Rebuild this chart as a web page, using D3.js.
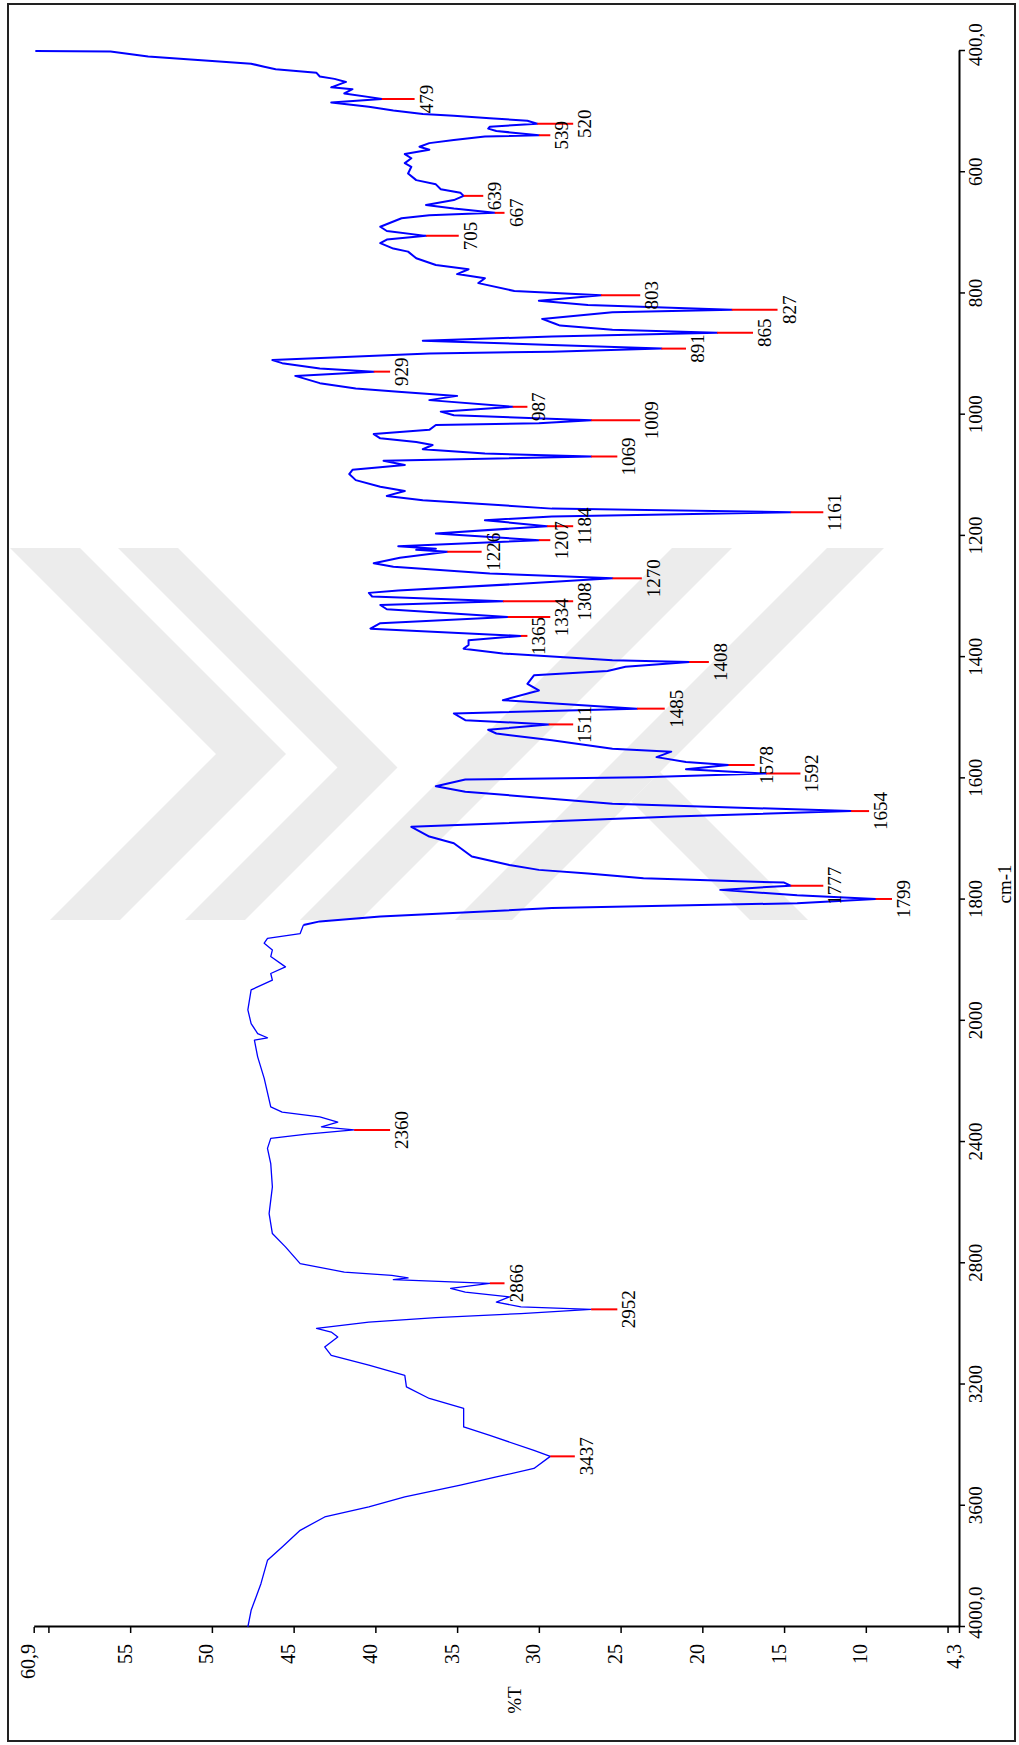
<!DOCTYPE html>
<html>
<head>
<meta charset="utf-8">
<script src="https://cdn.jsdelivr.net/npm/d3@7"></script>
<style>
  body { margin: 0; background: #fff; }
  svg { display: block; }
  text { font-family: "Liberation Serif", "Times New Roman", serif; fill: #000; }
</style>
</head>
<body>
<svg id="chart" width="1019" height="1745"></svg>
<script>
// FT-IR spectrum: wavenumber (cm-1) vs transmittance (%T)
const wavenumber = [
  400, 401, 409, 414, 416, 421, 426, 430, 436, 442, 446, 451, 460, 463, 470, 479, 485, 492, 498, 504,
  507, 511, 515, 520, 525, 528, 532, 539, 541, 547, 552, 558, 563, 570, 577, 585, 591, 602, 613, 620,
  628, 634, 639, 646, 654, 660, 667, 671, 676, 690, 697, 705, 711, 717, 726, 731, 742, 753, 760, 768,
  775, 783, 796, 803, 812, 819, 827, 831, 842, 850, 853, 860, 865, 871, 878, 885, 891, 896, 899, 910,
  915, 924, 929, 936, 948, 957, 962, 969, 976, 987, 995, 1001, 1009, 1014, 1017, 1025, 1032, 1039, 1045, 1050,
  1057, 1064, 1069, 1076, 1083, 1091, 1098, 1108, 1119, 1126, 1134, 1141, 1155, 1161, 1168, 1174, 1184, 1196, 1207, 1217,
  1221, 1223, 1226, 1236, 1245, 1251, 1262, 1270, 1279, 1290, 1294, 1300, 1308, 1314, 1321, 1334, 1344, 1353, 1365, 1372,
  1380, 1386, 1394, 1405, 1408, 1416, 1423, 1430, 1444, 1455, 1471, 1485, 1493, 1504, 1511, 1520, 1526, 1537, 1551, 1556,
  1565, 1573, 1578, 1585, 1592, 1598, 1602, 1613, 1622, 1642, 1654, 1663, 1680, 1696, 1707, 1729, 1743, 1751, 1757, 1765,
  1772, 1777, 1784, 1793, 1799, 1806, 1814, 1828, 1836, 1842, 1856, 1864, 1872, 1883, 1894, 1911, 1922, 1933, 1949, 1982,
  2009, 2042, 2056, 2064, 2119, 2190, 2284, 2301, 2317, 2334, 2350, 2360, 2374, 2388, 2421, 2471, 2548, 2636, 2702, 2746,
  2801, 2829, 2840, 2848, 2854, 2866, 2883, 2895, 2911, 2928, 2944, 2952, 2966, 2979, 2994, 3015, 3027, 3043, 3076, 3104,
  3136, 3170, 3208, 3246, 3279, 3340, 3368, 3417, 3437, 3477, 3505, 3532, 3571, 3604, 3637, 3681, 3736, 3780, 3857, 3945,
  4000
];
const transmittance = [
  60.8, 56.2, 53.9, 51.3, 50.2, 47.6, 46.8, 46.1, 43.6, 43.4, 42.5, 41.8, 42.7, 41.4, 41.9, 39.6, 42.7, 40.4, 38.9, 37.1,
  35.2, 33.0, 30.7, 30.1, 33.0, 33.1, 32.6, 30.0, 33.3, 35.2, 36.7, 37.3, 36.7, 38.2, 37.8, 38.2, 37.8, 38.0, 37.5, 36.3,
  36.0, 34.8, 34.6, 35.2, 36.9, 35.2, 32.7, 36.7, 38.4, 39.7, 39.3, 36.9, 39.3, 39.7, 38.9, 38.0, 37.5, 36.3, 34.3, 35.0,
  33.3, 33.7, 31.5, 26.2, 30.0, 27.0, 18.2, 25.5, 29.8, 29.0, 28.7, 25.5, 19.1, 29.2, 37.1, 29.2, 22.5, 29.2, 36.7, 46.3,
  45.7, 43.4, 40.1, 44.9, 43.4, 41.2, 38.6, 35.0, 36.7, 31.6, 36.0, 35.2, 26.8, 30.0, 36.3, 36.7, 40.1, 39.7, 37.5, 36.5,
  37.1, 33.3, 26.8, 39.5, 38.2, 41.4, 41.6, 41.2, 39.7, 38.2, 39.3, 37.1, 29.2, 14.6, 29.2, 33.3, 29.5, 36.3, 30.0, 38.6,
  36.3, 37.5, 35.6, 38.5, 40.1, 38.9, 33.0, 25.5, 31.1, 38.6, 40.4, 40.2, 32.2, 39.7, 39.3, 31.9, 39.7, 40.3, 31.1, 34.3,
  34.3, 34.6, 32.2, 25.5, 20.8, 24.7, 25.8, 30.3, 30.7, 30.0, 32.2, 24.0, 35.2, 34.5, 29.4, 33.1, 32.6, 29.2, 25.5, 21.9,
  22.8, 21.0, 18.4, 21.0, 16.1, 23.6, 34.5, 36.3, 34.5, 25.5, 10.9, 21.7, 37.8, 36.7, 35.2, 34.1, 31.8, 30.0, 27.0, 23.6,
  15.0, 14.6, 18.9, 14.2, 9.4, 14.2, 29.2, 39.7, 43.4, 44.4, 44.6, 46.6, 46.8, 46.3, 46.4, 45.5, 46.4, 46.3, 47.6, 47.8,
  47.6, 47.2, 46.6, 47.4, 47.2, 46.8, 46.4, 45.7, 43.4, 42.3, 43.3, 41.3, 44.2, 46.4, 46.6, 46.4, 46.3, 46.5, 46.3, 45.5,
  44.6, 41.9, 39.0, 38.0, 38.9, 33.0, 35.4, 34.5, 31.8, 32.6, 31.1, 26.8, 31.1, 36.3, 40.4, 43.6, 42.7, 42.3, 43.1, 42.7,
  40.4, 38.2, 38.1, 36.7, 34.6, 34.6, 33.0, 30.3, 29.3, 30.3, 32.6, 34.8, 38.2, 40.4, 43.1, 44.6, 45.7, 46.6, 47.0, 47.6,
  47.8
];

// Labelled absorption bands: position, %T at the band minimum, %T where the marker ends
const peakWavenumber = [479, 520, 539, 639, 667, 705, 803, 827, 865, 891, 929, 987, 1009, 1069, 1161, 1184, 1207,
  1226, 1270, 1308, 1334, 1365, 1408, 1485, 1511, 1578, 1592, 1654, 1777, 1799, 2360, 2866, 2952, 3437];
const peakTransmittance = [39.6, 30.1, 30.0, 34.6, 32.7, 36.9, 26.2, 18.2, 19.1, 22.5, 40.1, 31.6, 26.8, 26.8, 14.6, 29.5, 30.0,
  35.6, 25.5, 32.2, 31.9, 31.1, 20.8, 24.0, 29.4, 18.4, 16.1, 10.9, 14.6, 9.4, 41.3, 33.0, 26.8, 29.3];
const markerEnd = [37.6, 27.9, 29.3, 33.4, 32.1, 34.9, 23.8, 15.4, 16.9, 21.0, 39.1, 30.7, 23.8, 25.2, 12.6, 27.9, 29.3,
  33.5, 23.7, 27.9, 29.3, 30.7, 19.6, 22.3, 27.9, 16.8, 14.0, 9.8, 12.6, 8.4, 39.1, 32.1, 25.2, 27.8];

// Axis ticks
const xTickValues = [4000, 3600, 3200, 2800, 2400, 2000, 1800, 1600, 1400, 1200, 1000, 800, 600, 400];
const xTickLabels = ["4000,0", "3600", "3200", "2800", "2400", "2000", "1800", "1600", "1400", "1200", "1000", "800", "600", "400,0"];
const yTickValues = [60.9, 60, 55, 50, 45, 40, 35, 30, 25, 20, 15, 10, 5, 4.3];
const yTickLabels = ["60,9", "", "55", "50", "45", "40", "35", "30", "25", "20", "15", "10", "", "4,3"];

const svg = d3.select("#chart");
const W = 1019, H = 1745;

// faint background emblem: diagonal bands
const emblem = [
  [[10, 548], [80, 548], [286, 754], [120, 920], [50, 920], [216, 754]],
  [[118, 548], [178, 548], [397.5, 767.5], [245, 920], [185, 920], [337.5, 767.5]],
  [[300, 920], [360, 920], [732, 548], [672, 548]],
  [[455, 920], [512, 920], [884, 548], [827, 548]],
  [[660, 772], [808, 920], [750, 920], [631, 801]]
];
svg.append("g").selectAll("polygon").data(emblem).join("polygon")
  .attr("points", (d) => d.map((p) => p.join(",")).join(" "))
  .attr("fill", "#ececec");

// page frame
svg.append("rect")
  .attr("x", 8).attr("y", 4).attr("width", 1007).attr("height", 1737)
  .attr("fill", "none").attr("stroke", "#222").attr("stroke-width", 2);

// The spectrum is laid out landscape and turned a quarter turn counter-clockwise.
const g = svg.append("g").attr("transform", `translate(0,${H}) rotate(-90)`);

// scale changes at 2000 cm-1 (400 cm-1 per division above, 200 below)
const x = d3.scaleLinear().domain([4000, 2000, 400]).range([118, 724.2, 1694]);
const y = d3.scaleLinear().domain([4.3, 60.9]).range([959, 33.7]);

// x axis (cm-1)
const xAxis = g.append("g")
  .attr("transform", `translate(0,${y(4.3)})`)
  .call(d3.axisBottom(x).tickValues(xTickValues)
    .tickFormat((d, i) => xTickLabels[i]).tickSize(6).tickSizeOuter(0).tickPadding(4));
xAxis.select(".domain").attr("stroke", "#000").attr("stroke-width", 2);
xAxis.selectAll(".tick line").attr("stroke", "#000").attr("stroke-width", 1.5);
xAxis.selectAll(".tick text").attr("font-size", 19).attr("font-family", "Liberation Serif");
xAxis.selectAll(".tick text").filter((d) => d === 4000).attr("dx", 14);
xAxis.selectAll(".tick text").filter((d) => d === 400).attr("dx", 6);

// y axis (%T)
const yAxis = g.append("g")
  .attr("transform", `translate(${x(4000)},0)`)
  .call(d3.axisLeft(y).tickValues(yTickValues)
    .tickFormat((d, i) => yTickLabels[i]).tickSize(6).tickSizeOuter(0).tickPadding(11));
yAxis.select(".domain").attr("stroke", "#000").attr("stroke-width", 2);
yAxis.selectAll(".tick line").attr("stroke", "#000").attr("stroke-width", 1.5);
yAxis.selectAll(".tick text").attr("font-size", 20).attr("font-family", "Liberation Serif").attr("dy", "0.05em");

// axis titles
g.append("text").attr("x", 45).attr("y", 521).attr("text-anchor", "middle")
  .attr("font-size", 19).text("%T");
g.append("text").attr("x", 861).attr("y", 1011).attr("text-anchor", "middle")
  .attr("font-size", 19).text("cm-1");

// spectrum trace
const pts = wavenumber.map((w, i) => [w, transmittance[i]]);
const line = d3.line().x((d) => x(d[0])).y((d) => y(d[1]));
g.append("path")
  .datum(pts.filter((d) => d[0] <= 1842))
  .attr("d", line).attr("fill", "none").attr("stroke", "#0000ff").attr("stroke-width", 2)
  .attr("stroke-linejoin", "round");
g.append("path")
  .datum(pts.filter((d) => d[0] >= 1842))
  .attr("d", line).attr("fill", "none").attr("stroke", "#0000ff").attr("stroke-width", 1.3)
  .attr("stroke-linejoin", "round");

// band markers and labels
const peaks = peakWavenumber.map((w, i) => ({ w, t: peakTransmittance[i], e: markerEnd[i] }));
const pk = g.append("g");
pk.selectAll("line").data(peaks).join("line")
  .attr("x1", (d) => x(d.w)).attr("x2", (d) => x(d.w))
  .attr("y1", (d) => y(d.t)).attr("y2", (d) => y(d.e))
  .attr("stroke", "#ff0000").attr("stroke-width", 2);
pk.selectAll("text").data(peaks).join("text")
  .attr("x", (d) => x(d.w)).attr("y", (d) => y(d.e) + 18)
  .attr("text-anchor", "middle").attr("font-size", 19)
  .text((d) => d.w);
</script>
</body>
</html>
